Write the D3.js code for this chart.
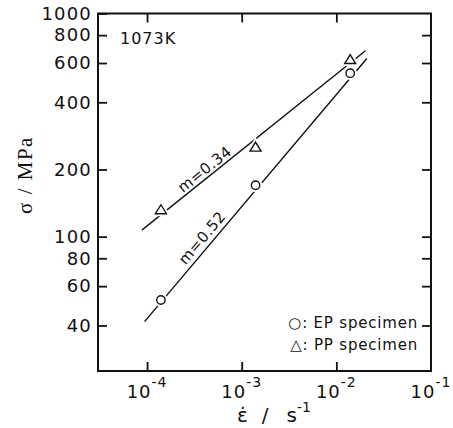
<!DOCTYPE html>
<html>
<head>
<meta charset="utf-8">
<script src="https://cdn.jsdelivr.net/npm/d3@7"></script>
<style>
  body { margin: 0; background: #fff; }
  svg { display: block; }
  text { font-family: "DejaVu Sans", sans-serif; fill: #111; }
</style>
</head>
<body>
<svg id="chart" width="453" height="428"></svg>
<script>
// tick values
var xTicks = [1e-4, 1e-3, 1e-2, 1e-1];
var xTickExp = ['-4', '-3', '-2', '-1'];
var yTicks = [40, 60, 80, 100, 200, 400, 600, 800, 1000];

// measured points (strain rate, stress)
var epRate = [1.4e-4, 1.4e-3, 1.4e-2];
var epStress = [52, 170, 540];
var ppRate = [1.4e-4, 1.4e-3, 1.4e-2];
var ppStress = [132, 252, 622];

// fitted lines, end points
var epFitRate = [9.4e-5, 2.1e-2];
var epFitStress = [41.6, 629];
var ppFitRate = [8.8e-5, 2.03e-2];
var ppFitStress = [107, 681];

var slopeLabels = ['m=0.52', 'm=0.34'];

var svg = d3.select('#chart');
var plotLeft = 98, plotRight = 431, plotTop = 13.5, plotBottom = 371;

var x = d3.scaleLog().domain([3.03e-5, 1e-1]).range([plotLeft, plotRight]);
var y = d3.scaleLog().domain([25, 1000]).range([plotBottom, plotTop]);

// frame
svg.append('rect')
   .attr('x', plotLeft).attr('y', plotTop)
   .attr('width', plotRight - plotLeft).attr('height', plotBottom - plotTop)
   .attr('fill', 'none').attr('stroke', '#111').attr('stroke-width', 2);

function styleAxis(g) {
  g.select('.domain').remove();
  g.selectAll('.tick line').attr('stroke', '#111').attr('stroke-width', 1.8);
}

// y axes (ticks point inward)
var yLeft = svg.append('g').attr('transform', `translate(${plotLeft},0)`)
  .call(d3.axisLeft(y).tickValues(yTicks).tickSize(-9).tickPadding(6).tickFormat(d3.format('d')));
styleAxis(yLeft);
yLeft.selectAll('.tick text')
     .attr('font-size', 18).attr('letter-spacing', 1.2).attr('fill', '#111');

var yRight = svg.append('g').attr('transform', `translate(${plotRight},0)`)
  .call(d3.axisRight(y).tickValues(yTicks.filter(d => d < 1000)).tickSize(-9).tickFormat(''));
styleAxis(yRight);

// x axes
var xBottom = svg.append('g').attr('transform', `translate(0,${plotBottom})`)
  .call(d3.axisBottom(x).tickValues(xTicks.slice(0, 3)).tickSize(-9).tickFormat(''));
styleAxis(xBottom);
var xTop = svg.append('g').attr('transform', `translate(0,${plotTop})`)
  .call(d3.axisTop(x).tickValues(xTicks.slice(0, 3)).tickSize(-9).tickFormat(''));
styleAxis(xTop);

var xl = svg.append('g').selectAll('text').data(xTicks).enter().append('text')
  .attr('x', d => x(d)).attr('y', plotBottom + 27)
  .attr('text-anchor', 'middle')
  .attr('font-size', 18).attr('letter-spacing', 1);
xl.append('tspan').text('10');
xl.append('tspan').attr('dy', -11).attr('font-size', 14).text((d, i) => xTickExp[i]);

// axis titles
var xt = svg.append('text').attr('x', 237).attr('y', 422).attr('font-size', 20);
xt.append('tspan').text('\u03b5\u0307');
xt.append('tspan').attr('dx', 14).text('/');
xt.append('tspan').attr('dx', 18).text('s');
xt.append('tspan').attr('dy', -10).attr('font-size', 14).text('-1');

svg.append('text')
   .attr('transform', 'translate(32,175) rotate(-90)')
   .attr('text-anchor', 'middle')
   .style('font-family', '"Liberation Serif", serif')
   .attr('font-size', 21).attr('letter-spacing', 1.5)
   .text('\u03c3 / MPa');

svg.append('text').attr('x', 120).attr('y', 43.5)
   .attr('font-size', 16).attr('letter-spacing', 1).text('1073K');

// fitted lines
var line = d3.line().x(d => x(d[0])).y(d => y(d[1]));
var fits = [d3.zip(epFitRate, epFitStress), d3.zip(ppFitRate, ppFitStress)];
svg.append('g').selectAll('path').data(fits).enter().append('path')
   .attr('d', line).attr('fill', 'none').attr('stroke', '#111').attr('stroke-width', 1.4);

// slope labels along lines
fits.forEach(function(f, i) {
  var r = 4.6e-4;
  var t = (Math.log(r) - Math.log(f[0][0])) / (Math.log(f[1][0]) - Math.log(f[0][0]));
  var s = Math.exp(Math.log(f[0][1]) + t * (Math.log(f[1][1]) - Math.log(f[0][1])));
  var ang = Math.atan2(y(f[1][1]) - y(f[0][1]), x(f[1][0]) - x(f[0][0])) * 180 / Math.PI;
  svg.append('text')
     .attr('transform', `translate(${x(r)},${y(s)}) rotate(${ang})`)
     .attr('y', i === 0 ? -5 : -3)
     .attr('text-anchor', 'middle')
     .attr('font-size', 15).attr('letter-spacing', 0.5)
     .text(slopeLabels[i]);
});

// markers (white halo breaks the line)
var ep = d3.zip(epRate, epStress);
var pp = d3.zip(ppRate, ppStress);
var tri = 'M0,-5L5.5,4L-5.5,4Z';

[['#fff', 5], ['#111', 1.4]].forEach(function(st) {
  svg.append('g').selectAll('circle').data(ep).enter().append('circle')
     .attr('cx', d => x(d[0])).attr('cy', d => y(d[1])).attr('r', 4.2)
     .attr('fill', '#fff').attr('stroke', st[0]).attr('stroke-width', st[1]);
  svg.append('g').selectAll('path').data(pp).enter().append('path')
     .attr('transform', d => `translate(${x(d[0])},${y(d[1])})`)
     .attr('d', tri)
     .attr('fill', '#fff').attr('stroke', st[0]).attr('stroke-width', st[1]);
});

// legend
svg.append('text').attr('x', 418).attr('y', 328).attr('text-anchor', 'end')
   .attr('font-size', 15).attr('letter-spacing', 0.8).text('\u25cb: EP specimen');
svg.append('text').attr('x', 418).attr('y', 350).attr('text-anchor', 'end')
   .attr('font-size', 15).attr('letter-spacing', 0.8).text('\u25b3: PP specimen');
</script>
</body>
</html>
